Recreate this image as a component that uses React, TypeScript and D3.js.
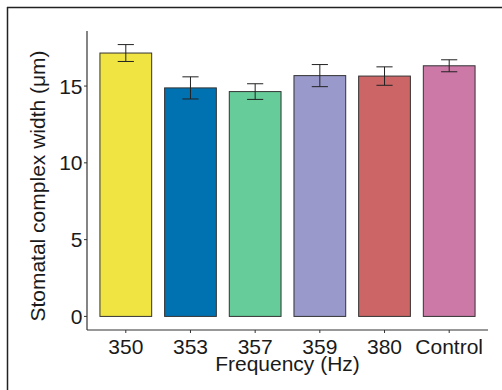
import React from "react";
import * as d3 from "d3";

const categories = ["350", "353", "357", "359", "380", "Control"];
const means = [17.15, 14.88, 14.64, 15.68, 15.65, 16.32];
const errors = [0.55, 0.72, 0.51, 0.72, 0.6, 0.39];
const colors = ["#F0E442", "#0072B2", "#66CC99", "#9999CC", "#CC6666", "#CC79A7"];
const yTicks = [0, 5, 10, 15];

export default function App() {
  const W = 502, H = 390;
  const left = 87, right = 488, top = 31, bottom = 330;
  const maxV = d3.max(means.map((m, i) => m + errors[i])) as number;
  const pad = maxV * 0.05;
  const y = d3.scaleLinear().domain([-pad, maxV + pad]).range([bottom, top]);
  const n = categories.length;
  const x = d3.scaleLinear().domain([0.4, n + 0.6]).range([left, right]);
  const step = x(2) - x(1);
  const bw = step * 0.8;
  const ew = step * 0.25;
  const font = "'Liberation Sans', Arial, sans-serif";
  return (
    <svg width={W} height={H} style={{ position: "absolute", left: 0, top: 0, background: "#fff" }}>
      <line x1={7} y1={7.5} x2={W} y2={7.5} stroke="#222" strokeWidth={1.5} />
      <line x1={7.5} y1={7} x2={7.5} y2={H} stroke="#222" strokeWidth={1.5} />
      {categories.map((c, i) => {
        const cx = x(i + 1);
        return (
          <g key={c}>
            <rect x={cx - bw / 2} y={y(means[i])} width={bw} height={y(0) - y(means[i])}
              fill={colors[i]} stroke="#333" strokeWidth={1} />
            <line x1={cx} x2={cx} y1={y(means[i] + errors[i])} y2={y(means[i] - errors[i])} stroke="#222" strokeWidth={1} />
            <line x1={cx - ew / 2} x2={cx + ew / 2} y1={y(means[i] + errors[i])} y2={y(means[i] + errors[i])} stroke="#222" strokeWidth={1} />
            <line x1={cx - ew / 2} x2={cx + ew / 2} y1={y(means[i] - errors[i])} y2={y(means[i] - errors[i])} stroke="#222" strokeWidth={1} />
            <line x1={cx} x2={cx} y1={bottom} y2={bottom + 3} stroke="#333" strokeWidth={1} />
            <text x={cx} y={353.5} textAnchor="middle" fontFamily={font} fontSize={21} fill="#1a1a1a">{c}</text>
          </g>
        );
      })}
      <line x1={left} x2={left} y1={top} y2={bottom} stroke="#333" strokeWidth={1.2} />
      <line x1={left} x2={right} y1={bottom} y2={bottom} stroke="#333" strokeWidth={1.2} />
      {yTicks.map((t) => (
        <g key={t}>
          <line x1={left - 3} x2={left} y1={y(t)} y2={y(t)} stroke="#333" strokeWidth={1} />
          <text x={82.5} y={y(t)} dy="0.36em" textAnchor="end" fontFamily={font} fontSize={21} fill="#1a1a1a">{t}</text>
        </g>
      ))}
      <text x={(left + right) / 2} y={371} textAnchor="middle" fontFamily={font} fontSize={21} fill="#1a1a1a">Frequency (Hz)</text>
      <text transform={`translate(45, 186) rotate(-90)`} textAnchor="middle" fontFamily={font} fontSize={21} fill="#1a1a1a">Stomatal complex width (μm)</text>
    </svg>
  );
}
